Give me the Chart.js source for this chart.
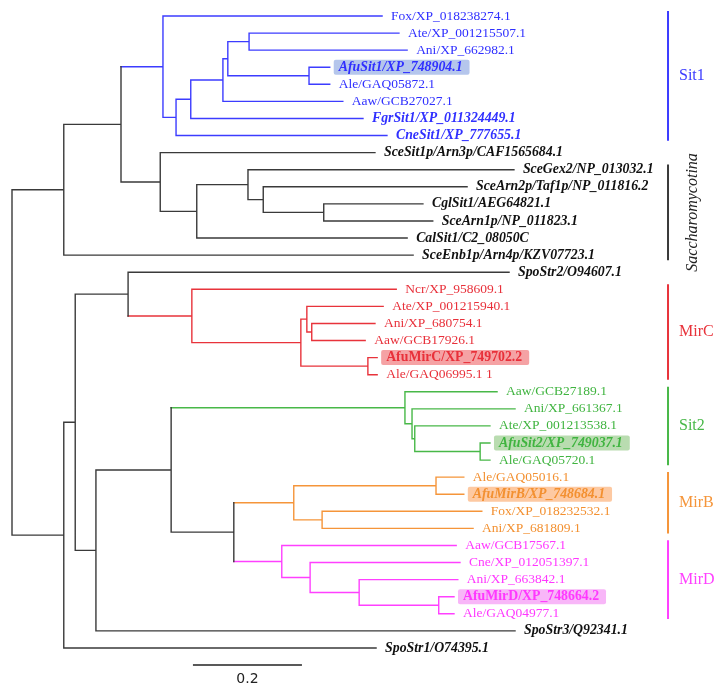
<!DOCTYPE html>
<html lang="en">
<head>
<meta charset="UTF-8">
<title>Siderophore transporter tree</title>
<script src="https://cdn.jsdelivr.net/npm/chart.js"></script>
<style>
  html, body { margin: 0; padding: 0; background: #fff; }
  canvas { display: block; }
</style>
</head>
<body>
<canvas id="treeChart" width="725" height="695"></canvas>
<script>
// tips, top to bottom
const leafNames = [
    'Fox/XP_018238274.1', 'Ate/XP_001215507.1', 'Ani/XP_662982.1', 'AfuSit1/XP_748904.1',
    'Ale/GAQ05872.1', 'Aaw/GCB27027.1', 'FgrSit1/XP_011324449.1', 'CneSit1/XP_777655.1',
    'SceSit1p/Arn3p/CAF1565684.1', 'SceGex2/NP_013032.1', 'SceArn2p/Taf1p/NP_011816.2',
    'CglSit1/AEG64821.1', 'SceArn1p/NP_011823.1', 'CalSit1/C2_08050C', 'SceEnb1p/Arn4p/KZV07723.1',
    'SpoStr2/O94607.1', 'Ncr/XP_958609.1', 'Ate/XP_001215940.1', 'Ani/XP_680754.1',
    'Aaw/GCB17926.1', 'AfuMirC/XP_749702.2', 'Ale/GAQ06995.1 1', 'Aaw/GCB27189.1',
    'Ani/XP_661367.1', 'Ate/XP_001213538.1', 'AfuSit2/XP_749037.1', 'Ale/GAQ05720.1',
    'Ale/GAQ05016.1', 'AfuMirB/XP_748684.1', 'Fox/XP_018232532.1', 'Ani/XP_681809.1',
    'Aaw/GCB17567.1', 'Cne/XP_012051397.1', 'Ani/XP_663842.1', 'AfuMirD/XP_748664.2',
    'Ale/GAQ04977.1', 'SpoStr3/Q92341.1', 'SpoStr1/O74395.1'
];
// distance from root to each tip
const leafDist = [
    0.679, 0.710, 0.725, 0.583, 0.583, 0.607, 0.644, 0.688,
    0.666, 0.921, 0.835, 0.754, 0.772, 0.725, 0.736,
    0.912, 0.705, 0.681, 0.666, 0.648, 0.670, 0.670,
    0.890, 0.923, 0.877, 0.877, 0.877,
    0.829, 0.829, 0.862, 0.846,
    0.815, 0.822, 0.818, 0.811, 0.811,
    0.923, 0.668
];
const leafClade = [
    'Sit1', 'Sit1', 'Sit1', 'Sit1', 'Sit1', 'Sit1', 'Sit1', 'Sit1',
    '', '', '', '', '', '', '', '',
    'MirC', 'MirC', 'MirC', 'MirC', 'MirC', 'MirC',
    'Sit2', 'Sit2', 'Sit2', 'Sit2', 'Sit2',
    'MirB', 'MirB', 'MirB', 'MirB',
    'MirD', 'MirD', 'MirD', 'MirD', 'MirD',
    '', ''
];

// internal nodes: distance from root and children (number = tip index, string = node)
const nodeNames = ['root', 'A', 'B', 's1', 's1a', 's1b', 's1c', 's1d', 's1e', 's1f',
    'sac0', 'sac1', 'sac2', 'sac3', 'sac4', 'C', 'D', 'E', 'mc0', 'mc1', 'mc2', 'mc3', 'mc4',
    'F', 'G', 't0', 't1', 't2', 't3', 'H', 'mb0', 'mb1', 'mb2', 'md0', 'md1', 'md2', 'md3'];
const nodeDist = [0, 0.095, 0.200, 0.277, 0.301, 0.328, 0.387, 0.396, 0.435, 0.545,
    0.272, 0.339, 0.433, 0.461, 0.572, 0.095, 0.116, 0.213, 0.330, 0.530, 0.541, 0.550, 0.653,
    0.154, 0.292, 0.721, 0.734, 0.739, 0.859, 0.407, 0.517, 0.778, 0.569, 0.495, 0.547, 0.637, 0.783];
const nodeKids = [
    ['A', 'C'], ['B', 14], ['s1', 'sac0'], [0, 's1a'], ['s1b', 7], ['s1c', 6], ['s1d', 5],
    ['s1e', 's1f'], [1, 2], [3, 4],
    [8, 'sac1'], ['sac2', 13], [9, 'sac3'], [10, 'sac4'], [11, 12],
    ['D', 37], ['E', 'F'], [15, 'mc0'], [16, 'mc1'], ['mc2', 'mc4'], [17, 'mc3'], [18, 19], [20, 21],
    ['G', 36], ['t0', 'H'], [22, 't1'], [23, 't2'], [24, 't3'], [25, 26],
    ['mb0', 'md0'], ['mb1', 'mb2'], [27, 28], [29, 30], [31, 'md1'], [32, 'md2'], [33, 'md3'], [34, 35]
];

const boldItalic = [3, 6, 7, 8, 9, 10, 11, 12, 13, 14, 15, 25, 28, 36, 37];
const boldOnly = [20, 34];
const highlighted = [3, 20, 25, 28, 34];

const cladeLabels = ['Sit1', 'Saccharomycotina', 'MirC', 'Sit2', 'MirB', 'MirD'];
const cladeFirst = [0, 9, 16, 22, 27, 31];
const cladeLast = [7, 14, 21, 26, 30, 35];

const scaleBarStart = 0.332;
const scaleBarLength = 0.2;

// ---- style ----
const colors = {
    '': '#3a3a3a', Sit1: '#3c3cff', Saccharomycotina: '#3a3a3a', MirC: '#e8333b',
    Sit2: '#48b848', MirB: '#f5953a', MirD: '#ff40ff'
};
const textColors = { '': '#111', Sit1: '#3030ff', MirC: '#e8303a', Sit2: '#40b440', MirB: '#f39030', MirD: '#ff38ff' };
const boxColors = { Sit1: '#b5c6ec', MirC: '#f5a2a4', Sit2: '#b9dcb0', MirB: '#fdc9a2', MirD: '#f8b6f8' };
const cladeBarX = 1.2037;

// ---- layout of tree ----
const nodeIndex = {};
nodeNames.forEach((n, i) => nodeIndex[n] = i);

function yOf(k) {
    if (typeof k === 'number') return k;
    const kids = nodeKids[nodeIndex[k]];
    return (yOf(kids[0]) + yOf(kids[kids.length - 1])) / 2;
}
function xOf(k) {
    return typeof k === 'number' ? leafDist[k] : nodeDist[nodeIndex[k]];
}
function tipsOf(k) {
    if (typeof k === 'number') return [k];
    return nodeKids[nodeIndex[k]].flatMap(tipsOf);
}
function cladeOf(k) {
    const groups = new Set(tipsOf(k).map(t => leafClade[t]));
    return groups.size === 1 ? [...groups][0] : '';
}

const segs = {};
function addSeg(group, a, b) {
    if (!segs[group]) segs[group] = [];
    segs[group].push(a, b, { x: a.x, y: null });
}
nodeNames.forEach((n, i) => {
    const kids = nodeKids[i];
    const nx = nodeDist[i];
    const g = cladeOf(n);
    addSeg(g, { x: nx, y: yOf(kids[0]) }, { x: nx, y: yOf(kids[kids.length - 1]) });
    kids.forEach(k => {
        addSeg(cladeOf(k), { x: nx, y: yOf(k) }, { x: xOf(k), y: yOf(k) });
    });
});

const datasets = Object.keys(segs).map(g => ({
    data: segs[g],
    showLine: true,
    spanGaps: false,
    borderColor: colors[g],
    borderWidth: 1.4,
    borderCapStyle: 'square',
    pointRadius: 0,
    tension: 0
}));

cladeLabels.forEach((c, i) => {
    datasets.push({
        data: [{ x: cladeBarX, y: cladeFirst[i] - 0.3 }, { x: cladeBarX, y: cladeLast[i] + 0.3 }],
        showLine: true, borderColor: colors[c], borderWidth: 2, pointRadius: 0
    });
});
datasets.push({
    data: [{ x: scaleBarStart, y: 38 }, { x: scaleBarStart + scaleBarLength, y: 38 }],
    showLine: true, borderColor: '#222', borderWidth: 1.4, pointRadius: 0
});

const labelPlugin = {
    id: 'treeLabels',
    afterDatasetsDraw(chart) {
        const ctx = chart.ctx;
        const xs = chart.scales.x, ys = chart.scales.y;
        ctx.save();
        ctx.textBaseline = 'middle';
        leafNames.forEach((name, i) => {
            let font = '13.5px "Liberation Serif", "Times New Roman", serif';
            if (boldItalic.includes(i)) font = 'italic bold 13.8px "Liberation Serif", serif';
            else if (boldOnly.includes(i)) font = 'bold 13.8px "Liberation Serif", serif';
            ctx.font = font;
            const x = xs.getPixelForValue(leafDist[i]) + 9;
            const y = ys.getPixelForValue(i);
            if (highlighted.includes(i)) {
                const w = ctx.measureText(name).width;
                ctx.fillStyle = boxColors[leafClade[i]];
                ctx.beginPath();
                ctx.roundRect(x - 5, y - 7.5, w + 12, 15, 2);
                ctx.fill();
            }
            ctx.fillStyle = textColors[leafClade[i]];
            ctx.textAlign = 'left';
            ctx.fillText(name, x, y);
        });

        cladeLabels.forEach((c, i) => {
            const bx = xs.getPixelForValue(cladeBarX);
            const my = ys.getPixelForValue((cladeFirst[i] + cladeLast[i]) / 2);
            ctx.fillStyle = c === 'Saccharomycotina' ? '#222' : colors[c];
            if (c === 'Saccharomycotina') {
                ctx.save();
                ctx.translate(bx + 25, my);
                ctx.rotate(-Math.PI / 2);
                ctx.font = 'italic 16px "Liberation Serif", serif';
                ctx.textAlign = 'center';
                ctx.fillText(c, 0, 0);
                ctx.restore();
            } else {
                ctx.font = '16px "Liberation Serif", serif';
                ctx.textAlign = 'left';
                ctx.fillText(c, bx + 11, my);
            }
        });

        ctx.font = '14px "DejaVu Sans", sans-serif';
        ctx.fillStyle = '#222';
        ctx.textAlign = 'center';
        ctx.fillText(String(scaleBarLength),
            xs.getPixelForValue(scaleBarStart + scaleBarLength / 2), ys.getPixelForValue(38.85));
        ctx.restore();
    }
};

new Chart(document.getElementById('treeChart').getContext('2d'), {
    type: 'scatter',
    data: { datasets: datasets },
    options: {
        responsive: false,
        animation: false,
        devicePixelRatio: 1,
        layout: { padding: 0 },
        plugins: { legend: { display: false }, tooltip: { enabled: false } },
        scales: {
            x: { type: 'linear', display: false, min: -12 / 545, max: 713 / 545 },
            y: { type: 'linear', display: false, reverse: true, min: -16 / 17.08, max: 679 / 17.08 }
        }
    },
    plugins: [labelPlugin]
});
</script>
</body>
</html>
